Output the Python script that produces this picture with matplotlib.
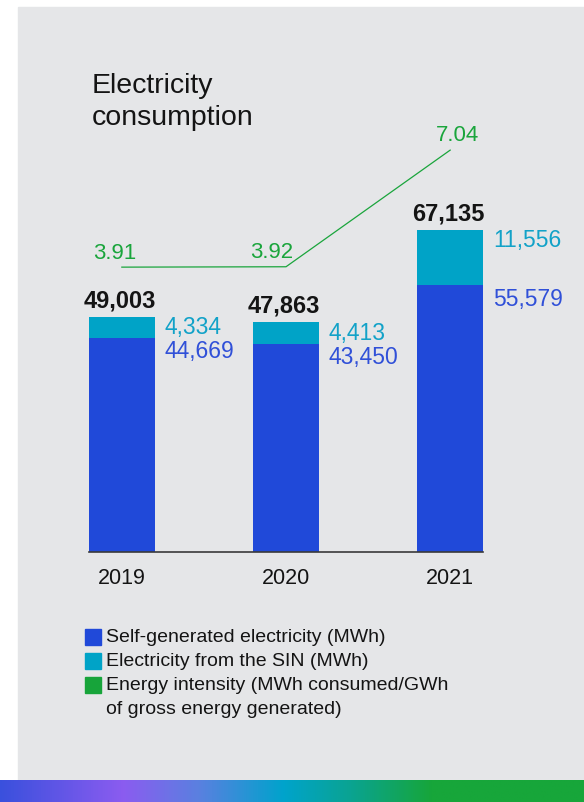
import matplotlib.pyplot as plt
import numpy as np
from matplotlib.patches import Rectangle
from matplotlib.colors import LinearSegmentedColormap

# data
years = ['2019', '2020', '2021']
self_generated = [44669, 43450, 55579]
from_sin = [4334, 4413, 11556]
intensity = [3.91, 3.92, 7.04]
legend_labels = ['Self-generated electricity (MWh)',
                 'Electricity from the SIN (MWh)',
                 'Energy intensity (MWh consumed/GWh\nof gross energy generated)']

BLUE = '#2049d9'
CYAN = '#00a3c7'
GREEN = '#1aa53c'
TXT = '#141414'
W, H = 584, 803

plt.rcParams['font.family'] = ['Liberation Sans', 'DejaVu Sans']

fig = plt.figure(figsize=(W / 100, H / 100), dpi=100)
fig.patch.set_facecolor('white')

# gray card behind everything
fig.patches.append(Rectangle((18 / W, 22 / H), 1 - 18 / W, 773 / H,
                             color='#e5e6e8', transform=fig.transFigure, zorder=-5))

# gradient strip at the bottom
cmap = LinearSegmentedColormap.from_list('strip', [
    (0.0, '#3a50dd'), (0.21, '#8b5cf0'), (0.34, '#5a80e0'), (0.485, '#00a3cc'),
    (0.60, '#0aa392'), (0.74, '#17a63a'), (1.0, '#17a63a')])
gax = fig.add_axes([0, 0, 1, 22 / H])
gax.imshow(np.linspace(0, 1, 512)[None, :], aspect='auto', cmap=cmap)
gax.set_axis_off()

# bars
ax = fig.add_axes([89 / W, (H - 553) / H, 394 / W, 403 / H])
ax.set_facecolor('none')
x = np.arange(len(years))
totals = [a + b for a, b in zip(self_generated, from_sin)]
ax.bar(x, self_generated, width=0.4, color=BLUE)
ax.bar(x, from_sin, width=0.4, bottom=self_generated, color=CYAN)
ax.set_xlim(-0.2, 2.2)
ax.set_ylim(0, 84000)
for s in ['top', 'right', 'left']:
    ax.spines[s].set_visible(False)
ax.spines['bottom'].set_color('#3a3a3a')
ax.spines['bottom'].set_linewidth(1.2)
ax.set_yticks([])
ax.set_xticks(x)
ax.set_xticklabels(years)
ax.tick_params(axis='x', length=0, pad=10.5, labelsize=15.5, labelcolor=TXT)

for i in range(len(years)):
    ax.annotate(f'{totals[i]:,}', (x[i], totals[i]), xytext=(-2, 17),
                textcoords='offset pixels', ha='center', va='center',
                fontsize=17, fontweight='bold', color=TXT)
    ax.annotate(f'{from_sin[i]:,}', (x[i] + 0.2, totals[i]), xytext=(10, -10),
                textcoords='offset pixels', ha='left', va='center',
                fontsize=16.5, color='#12a2c8')
    ax.annotate(f'{self_generated[i]:,}', (x[i] + 0.2, self_generated[i]), xytext=(10, -13),
                textcoords='offset pixels', ha='left', va='center',
                fontsize=16.5, color='#3050d8')

# energy intensity line
ax2 = ax.twinx()
ax2.set_ylim(-3.71, 7.07)
ax2.plot(x, intensity, color=GREEN, lw=0.9)
ax2.set_axis_off()
offs = [(-7, 15, 'center'), (7, 15, 'right'), (7, 16, 'center')]
for i, v in enumerate(intensity):
    dx, dy, ha = offs[i]
    ax2.annotate(f'{v:.2f}', (x[i], v), xytext=(dx, dy), textcoords='offset pixels',
                 ha=ha, va='center', fontsize=16, color=GREEN)

# title
fig.text(92 / W, (H - 73) / H, 'Electricity\nconsumption', va='top', ha='left',
         fontsize=20.5, linespacing=1.28, color=TXT)

# legend
legend_colors = [BLUE, CYAN, '#17a43a']
row = 638
for lab, col in zip(legend_labels, legend_colors):
    fig.patches.append(Rectangle((85 / W, (H - row - 8) / H), 16 / W, 16 / H,
                                 color=col, transform=fig.transFigure))
    for line in lab.split('\n'):
        fig.text(106 / W, (H - row) / H, line, va='center', ha='left',
                 fontsize=14, color=TXT)
        row += 24

fig.savefig('out.png', dpi=100)
